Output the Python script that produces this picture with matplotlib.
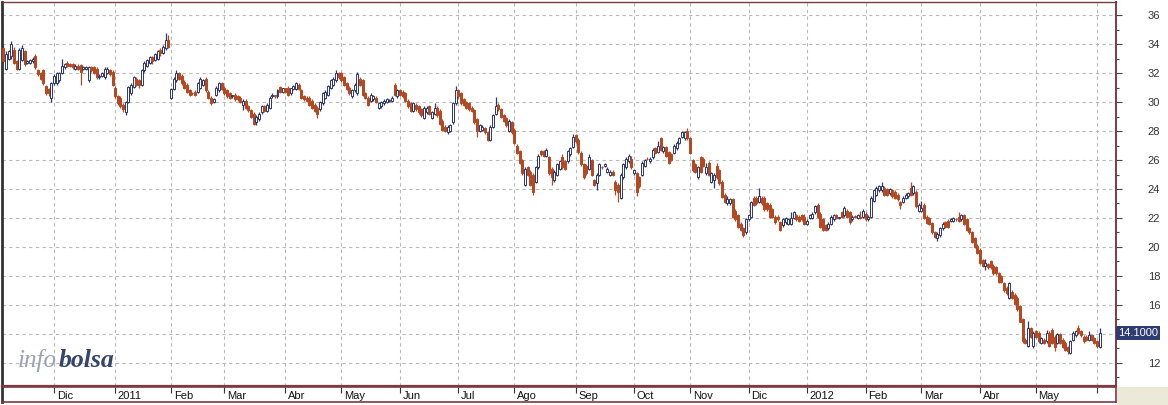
"""
Daily candlestick chart in the infobolsa style (Nov 2010 - Jun 2012).
"""

import numpy as np
import pandas as pd
import matplotlib
matplotlib.use("Agg")
import matplotlib.pyplot as plt
from matplotlib.patches import Rectangle
from matplotlib.transforms import blended_transform_factory


UP_COLOR = "#2b3770"
DOWN_COLOR = "#b5481f"
FRAME_COLOR = "#7d3a44"
GRID_COLOR = "#b8b8b8"
TAG_COLOR = "#2f3c72"

START_DATE = "2010-11-04"
MONTH_NAMES = ["Ene", "Feb", "Mar", "Abr", "May", "Jun",
               "Jul", "Ago", "Sep", "Oct", "Nov", "Dic"]
LAST_PRICE = 14.10

# one row per calendar month
opens = [
    33.7, 32.3, 33.0, 33.2, 33.6, 32.8, 32.3, 32.9, 33.5, 32.7, 32.7, 32.8, 33.2, 32.2, 32.0, 32.2, 31.1, 30.9, 30.3,
    31.3, 31.3, 31.5, 32.0, 32.4, 32.7, 32.6, 32.6, 32.3, 32.5, 32.55, 32.3, 32.3, 31.5, 32.4, 32.4, 32.3, 31.7, 31.8, 31.7, 32.0, 32.2, 32.1,
    31.0, 30.4, 30.3, 29.8, 29.3, 30.0, 30.6, 31.05, 31.6, 31.5, 31.2, 32.2, 32.5, 32.7, 33.1, 32.9, 33.0, 33.6, 33.4, 33.7, 34.3,
    30.3, 30.9, 31.5, 32.0, 31.8, 31.4, 31.2, 30.8, 30.65, 30.7, 30.7, 31.0, 31.2, 31.6, 30.7, 30.3, 30.0, 30.5, 30.8, 31.3,
    31.0, 30.8, 30.6, 30.4, 30.5, 30.4, 30.3, 29.8, 30.1, 29.7, 29.45, 29.2, 28.6, 28.8, 29.3, 29.7, 29.4, 29.6, 30.4, 30.45, 30.4, 31.05, 30.7,
    30.95, 31.0, 30.6, 30.9, 30.9, 31.2, 30.8, 30.4, 30.3, 30.3, 30.1, 29.8, 29.6, 29.5, 29.9, 30.3, 30.5, 30.95, 31.2, 31.5, 32.0,
    32.0, 31.7, 31.3, 31.0, 30.4, 30.8, 30.6, 31.6, 31.5, 30.6, 30.3, 30.1, 30.2, 30.3, 29.6, 29.7, 29.9, 30.0, 30.1, 30.1, 31.2, 30.4,
    30.8, 30.7, 30.6, 30.1, 29.9, 29.4, 29.8, 29.7, 29.5, 28.9, 29.3, 29.7, 28.9, 29.2, 29.6, 29.4, 28.7, 28.3, 27.9, 28.0, 28.6, 29.9,
    30.8, 30.6, 30.2, 30.0, 29.9, 29.6, 29.45, 28.8, 28.0, 28.1, 28.2, 27.9, 27.4, 28.3, 29.2, 29.8, 29.5, 29.1, 28.9, 28.0, 28.6,
    28.1, 27.0, 26.6, 26.0, 24.3, 25.5, 25.2, 25.0, 24.5, 25.5, 26.6, 26.6, 26.3, 26.2, 25.4, 24.6, 25.0, 25.4, 26.2, 25.9, 25.9, 26.4, 26.9,
    27.7, 27.4, 26.5, 25.7, 25.6, 25.4, 26.0, 24.6, 24.4, 25.0, 25.55, 25.6, 25.2, 25.0, 25.2, 24.5, 24.3, 23.4, 24.8, 25.5, 25.9, 26.1,
    25.1, 25.1, 24.8, 25.0, 25.6, 26.1, 25.9, 26.2, 26.8, 26.55, 27.5, 26.6, 26.9, 26.55, 26.4, 26.5, 26.8, 27.2, 27.6, 27.5, 28.0,
    27.5, 26.0, 25.7, 24.8, 26.2, 26.1, 25.1, 25.8, 24.5, 24.6, 25.6, 25.3, 24.5, 23.6, 23.0, 23.0, 23.3, 22.5, 22.2, 21.6, 21.3, 21.0,
    21.9, 22.1, 23.4, 23.4, 23.1, 23.4, 23.4, 23.0, 22.9, 22.6, 22.1, 22.1, 21.7, 21.5, 21.7, 21.6, 21.6, 22.0, 22.2, 22.1, 22.2, 22.1,
    21.6, 22.0, 22.0, 22.4, 22.9, 22.3, 21.9, 21.5, 21.3, 21.6, 21.9, 22.2, 22.0, 22.4, 22.2, 22.5, 22.4, 21.9, 22.15, 22.0, 22.1, 22.1,
    22.3, 21.9, 22.1, 23.2, 23.6, 23.9, 23.9, 24.1, 24.0, 23.7, 23.9, 23.8, 23.6, 23.1, 23.1, 23.4, 23.5, 24.1, 23.7, 23.8, 22.5,
    22.5, 22.9, 22.1, 22.0, 21.65, 21.0, 20.6, 20.8, 21.3, 21.7, 21.8, 21.8, 21.8, 21.95, 22.1, 21.9, 22.2, 21.9, 21.3, 21.0, 20.6, 20.1,
    19.8, 19.1, 18.7, 18.8, 19.0, 18.7, 18.6, 18.2, 18.0, 17.5, 17.2, 16.5, 16.9, 16.7, 16.5, 15.9, 15.0, 13.6, 13.2, 14.4, 13.2,
    14.2, 14.1, 13.4, 13.6, 13.5, 14.1, 14.3, 13.8, 13.4, 14.0, 13.6, 13.4, 13.1, 12.7, 13.6, 13.9, 14.4, 14.2, 13.8, 13.8, 13.6, 13.9, 13.7, 13.5, 13.1,
]

highs = [
    33.9, 33.5, 33.6, 34.2, 33.8, 32.9, 33.7, 33.9, 33.6, 32.9, 33.0, 33.1, 33.3, 32.3, 32.1, 32.3, 31.2, 31.0, 31.4,
    31.9, 32.1, 32.1, 33.0, 32.7, 32.8, 32.7, 32.7, 32.6, 32.6, 32.6, 32.5, 32.5, 32.5, 32.5, 32.5, 32.4, 31.9, 32.1, 32.4, 32.4, 32.3, 32.2,
    31.1, 30.5, 30.4, 29.9, 30.1, 31.1, 31.3, 31.8, 31.7, 31.6, 32.3, 32.8, 33.0, 33.2, 33.2, 33.4, 33.6, 33.7, 33.9, 34.75, 34.6,
    31.0, 31.7, 32.2, 32.1, 31.9, 31.5, 31.3, 30.9, 30.7, 30.8, 31.4, 31.7, 31.6, 31.7, 30.8, 30.4, 30.3, 31.1, 31.4, 31.4,
    31.1, 30.9, 30.7, 30.5, 30.6, 30.5, 30.4, 30.2, 30.2, 29.8, 29.5, 29.3, 29.1, 29.3, 29.8, 29.8, 29.9, 30.4, 30.6, 30.5, 30.9, 31.1, 31.0,
    31.0, 31.1, 31.0, 31.2, 31.4, 31.3, 30.9, 30.5, 30.4, 30.4, 30.2, 29.9, 29.7, 30.1, 30.7, 30.8, 31.2, 31.6, 31.7, 32.2, 32.1,
    32.1, 31.8, 31.4, 31.1, 30.9, 31.3, 32.1, 31.7, 31.6, 30.7, 30.4, 30.6, 30.5, 30.4, 30.0, 30.1, 30.2, 30.3, 30.2, 30.4, 31.3, 30.9,
    30.9, 30.8, 30.7, 30.2, 30.0, 30.0, 29.9, 29.8, 29.6, 29.7, 29.7, 29.8, 29.4, 29.9, 29.7, 29.5, 28.8, 28.4, 28.4, 28.5, 30.0, 31.1,
    30.9, 30.7, 30.3, 30.1, 30.0, 29.7, 29.5, 28.9, 28.5, 28.4, 28.3, 28.0, 28.4, 29.2, 30.35, 29.9, 29.6, 29.2, 29.0, 28.8, 28.7,
    28.2, 27.1, 26.7, 26.1, 25.5, 25.6, 25.3, 25.1, 25.6, 26.4, 26.7, 26.7, 26.8, 26.3, 25.5, 25.3, 25.8, 26.0, 26.4, 26.0, 26.7, 26.9, 27.8,
    27.8, 27.5, 26.6, 25.8, 25.7, 26.4, 26.1, 24.7, 25.1, 25.8, 25.6, 25.8, 25.5, 25.3, 25.3, 24.6, 24.4, 25.1, 25.8, 26.2, 26.4, 26.3,
    25.4, 25.2, 24.9, 25.9, 26.1, 26.2, 26.2, 26.8, 26.9, 27.3, 27.6, 27.0, 27.0, 26.6, 26.5, 27.1, 27.3, 27.6, 28.0, 28.0, 28.2,
    27.6, 26.1, 25.8, 25.6, 26.3, 26.2, 25.8, 25.9, 25.2, 25.1, 25.8, 25.4, 24.6, 23.7, 23.5, 23.4, 23.4, 22.6, 22.3, 21.7, 21.4, 22.0,
    22.3, 23.2, 23.5, 23.5, 24.1, 23.5, 23.5, 23.1, 23.0, 22.7, 22.2, 22.2, 21.8, 22.0, 22.1, 22.0, 22.4, 22.5, 22.3, 22.2, 22.3, 22.3,
    21.9, 22.3, 22.4, 22.9, 23.0, 22.4, 22.0, 21.6, 21.7, 22.2, 22.3, 22.3, 22.1, 22.5, 22.8, 22.6, 22.5, 22.2, 22.2, 22.3, 22.5, 22.6,
    22.4, 22.2, 23.5, 24.0, 24.2, 24.3, 24.5, 24.2, 24.1, 24.1, 24.0, 23.9, 23.7, 23.2, 23.5, 23.7, 23.8, 24.5, 24.3, 23.9, 23.0,
    23.2, 23.0, 22.2, 22.1, 21.7, 21.1, 21.0, 21.4, 21.7, 21.8, 21.9, 22.0, 22.1, 22.0, 22.4, 22.3, 22.3, 22.0, 21.4, 21.1, 20.7, 20.2,
    19.9, 19.2, 19.2, 18.9, 19.1, 18.8, 18.7, 18.3, 18.1, 17.6, 17.3, 17.6, 17.0, 16.8, 16.6, 16.0, 15.1, 13.7, 14.9, 14.5, 14.2,
    14.3, 14.2, 13.8, 13.7, 14.3, 14.2, 14.4, 13.9, 14.1, 14.1, 13.7, 13.5, 13.2, 13.6, 14.2, 14.3, 14.6, 14.3, 13.9, 13.9, 14.2, 14.0, 13.8, 13.6, 14.4,
]

lows = [
    32.7, 32.2, 32.9, 33.0, 32.6, 32.2, 32.2, 32.8, 32.5, 32.6, 32.6, 32.7, 32.3, 31.8, 31.5, 31.2, 30.5, 30.4, 30.0,
    31.2, 31.2, 31.4, 31.9, 32.3, 32.4, 32.4, 32.3, 32.2, 32.2, 31.2, 32.2, 32.2, 31.4, 32.1, 31.9, 31.6, 31.6, 31.7, 31.6, 31.9, 31.8, 31.1,
    30.3, 29.8, 29.6, 29.3, 29.1, 29.9, 30.5, 31.0, 31.1, 31.0, 31.1, 32.1, 32.4, 32.6, 32.6, 32.8, 32.9, 33.2, 33.3, 33.6, 33.7,
    30.2, 30.8, 31.4, 31.5, 31.2, 30.9, 30.6, 30.4, 30.5, 30.4, 30.6, 30.9, 31.1, 30.7, 30.2, 29.8, 29.9, 30.4, 30.7, 30.8,
    30.5, 30.3, 30.2, 30.3, 30.1, 30.1, 29.9, 29.45, 29.5, 29.3, 28.9, 28.4, 28.4, 28.7, 29.2, 29.3, 29.3, 29.5, 30.3, 30.3, 30.3, 30.6, 30.6,
    30.6, 30.4, 30.5, 30.8, 30.8, 30.8, 30.2, 30.1, 30.0, 29.7, 29.5, 29.3, 28.9, 29.4, 29.8, 30.2, 30.4, 30.9, 31.1, 31.4, 31.6,
    31.4, 31.1, 30.8, 30.5, 30.3, 30.7, 30.5, 31.1, 30.4, 30.2, 29.7, 30.0, 30.1, 29.9, 29.5, 29.6, 29.8, 29.9, 30.0, 30.0, 30.4, 30.3,
    30.4, 30.3, 30.0, 29.6, 29.3, 29.3, 29.4, 29.2, 29.0, 28.8, 29.2, 29.1, 28.8, 29.1, 29.0, 28.4, 28.0, 27.9, 27.8, 27.9, 28.5, 29.8,
    30.3, 29.8, 29.7, 29.5, 29.4, 29.3, 28.5, 27.6, 27.9, 28.0, 27.8, 27.3, 27.3, 28.2, 29.1, 29.4, 28.9, 28.6, 28.3, 27.9, 27.8,
    27.1, 26.4, 25.7, 25.0, 24.2, 24.9, 24.2, 23.6, 24.4, 25.4, 26.3, 26.2, 26.2, 25.0, 24.3, 24.5, 24.9, 25.3, 25.4, 25.3, 25.8, 26.3, 26.8,
    27.2, 26.4, 25.6, 24.7, 25.0, 25.3, 24.9, 24.2, 23.9, 24.9, 25.4, 25.5, 25.1, 24.9, 24.9, 23.6, 23.1, 23.3, 24.7, 25.4, 25.8, 25.4,
    25.0, 23.5, 24.1, 24.9, 25.5, 26.0, 25.8, 26.1, 26.4, 26.5, 26.6, 26.5, 26.2, 25.7, 25.9, 26.4, 26.7, 27.1, 27.5, 27.4, 27.4,
    26.4, 25.2, 25.1, 24.7, 25.1, 25.5, 25.0, 24.9, 24.4, 24.1, 24.7, 24.3, 23.4, 23.0, 22.9, 22.9, 22.0, 21.8, 21.3, 21.1, 20.7, 20.9,
    21.8, 22.0, 22.8, 22.9, 23.0, 22.9, 22.5, 22.5, 22.0, 22.0, 21.6, 21.8, 21.1, 21.4, 21.6, 21.5, 21.5, 21.9, 21.8, 21.7, 21.8, 21.5,
    21.5, 21.9, 21.9, 22.3, 22.0, 21.3, 21.1, 21.1, 21.2, 21.5, 21.8, 21.9, 21.9, 22.0, 22.1, 22.0, 21.6, 21.8, 22.0, 21.9, 21.9, 22.0,
    21.8, 21.8, 22.0, 23.1, 23.5, 23.8, 23.8, 23.5, 23.5, 23.6, 23.4, 23.3, 23.2, 22.6, 23.0, 23.3, 23.4, 23.5, 23.6, 22.7, 22.4,
    22.4, 21.9, 21.6, 21.5, 20.9, 20.6, 20.4, 20.7, 21.2, 21.3, 21.3, 21.7, 21.7, 21.8, 21.7, 21.8, 21.5, 21.1, 20.9, 20.3, 19.9, 19.5,
    18.8, 18.6, 18.4, 18.5, 18.5, 18.1, 18.1, 17.5, 17.5, 16.9, 16.7, 16.4, 16.4, 16.0, 15.6, 14.8, 13.4, 13.3, 13.1, 13.7, 13.0,
    13.7, 13.4, 13.3, 13.3, 13.4, 13.1, 13.3, 12.8, 13.3, 13.3, 13.0, 12.8, 12.6, 12.6, 13.5, 13.8, 14.0, 13.8, 13.4, 13.5, 13.5, 13.5, 13.3, 13.0, 13.0,
]

closes = [
    32.8, 33.3, 33.5, 34.0, 32.7, 32.3, 33.6, 33.7, 32.6, 32.8, 32.9, 33.0, 32.4, 31.9, 31.6, 31.3, 30.6, 30.6, 31.3,
    31.8, 32.0, 32.0, 32.5, 32.6, 32.5, 32.5, 32.4, 32.5, 32.3, 32.1, 32.4, 32.4, 32.4, 32.2, 32.0, 31.7, 31.8, 32.0, 32.3, 32.3, 31.9, 31.2,
    30.4, 29.9, 29.7, 29.5, 30.0, 31.05, 31.2, 31.7, 31.2, 31.2, 32.2, 32.7, 32.9, 33.1, 32.8, 33.3, 33.5, 33.4, 33.8, 34.3, 33.8,
    30.9, 31.6, 32.0, 31.6, 31.3, 31.0, 30.7, 30.5, 30.6, 30.5, 31.3, 31.6, 31.5, 30.8, 30.3, 29.9, 30.2, 31.0, 31.3, 30.9,
    30.6, 30.4, 30.3, 30.45, 30.2, 30.2, 30.0, 30.1, 29.6, 29.45, 29.0, 28.5, 29.0, 29.2, 29.7, 29.4, 29.8, 30.3, 30.5, 30.4, 30.8, 30.7, 30.95,
    30.7, 30.5, 30.95, 31.1, 31.3, 30.9, 30.3, 30.2, 30.1, 29.8, 29.6, 29.4, 29.2, 30.0, 30.6, 30.7, 31.1, 31.5, 31.6, 32.0, 31.7,
    31.5, 31.2, 30.9, 30.6, 30.8, 31.2, 31.9, 31.2, 30.5, 30.3, 29.8, 30.5, 30.4, 30.0, 29.9, 30.0, 30.1, 30.2, 30.15, 30.3, 30.5, 30.8,
    30.5, 30.4, 30.1, 29.7, 29.4, 29.9, 29.5, 29.3, 29.1, 29.6, 29.6, 29.2, 29.3, 29.6, 29.1, 28.5, 28.1, 28.0, 28.3, 28.4, 29.9, 30.8,
    30.4, 29.9, 29.8, 29.6, 29.5, 29.4, 28.6, 28.0, 28.4, 28.3, 27.9, 27.4, 28.3, 29.1, 29.7, 29.5, 29.0, 28.7, 28.4, 28.7, 27.9,
    27.2, 26.5, 25.8, 25.1, 25.4, 25.0, 24.3, 23.8, 25.5, 26.3, 26.4, 26.3, 26.7, 25.1, 24.8, 25.2, 25.7, 25.9, 25.5, 25.4, 26.6, 26.8, 27.6,
    27.3, 26.55, 25.7, 24.8, 25.1, 26.2, 25.0, 24.3, 25.0, 25.7, 25.5, 25.75, 25.4, 25.2, 25.0, 23.9, 23.8, 25.0, 25.7, 26.1, 26.3, 25.5,
    25.3, 23.8, 24.2, 25.8, 26.0, 26.05, 26.1, 26.7, 26.5, 27.0, 26.7, 26.9, 26.3, 25.8, 26.0, 27.0, 27.2, 27.5, 27.9, 27.9, 27.5,
    26.5, 25.3, 25.2, 25.5, 25.2, 25.6, 25.5, 25.0, 25.1, 25.0, 24.8, 24.4, 23.45, 23.1, 23.3, 23.3, 22.1, 21.9, 21.4, 21.2, 20.8, 21.9,
    22.2, 23.1, 22.9, 23.0, 23.5, 23.0, 22.6, 22.6, 22.1, 22.1, 21.7, 21.9, 21.2, 21.9, 22.0, 21.9, 22.0, 22.4, 21.9, 21.8, 21.9, 21.6,
    21.8, 22.2, 22.3, 22.8, 22.1, 21.4, 21.2, 21.2, 21.6, 22.1, 22.2, 22.0, 22.05, 22.1, 22.7, 22.1, 21.7, 22.1, 22.1, 22.2, 22.0, 22.5,
    21.9, 22.1, 23.4, 23.9, 24.1, 24.2, 24.2, 23.6, 23.6, 24.0, 23.5, 23.4, 23.3, 22.9, 23.4, 23.6, 23.7, 23.6, 24.2, 22.8, 22.9,
    22.7, 22.0, 21.65, 21.6, 21.0, 20.7, 20.9, 21.3, 21.6, 21.4, 21.4, 21.95, 22.0, 21.9, 21.8, 22.2, 21.6, 21.2, 21.0, 20.35, 20.0, 19.6,
    18.9, 18.7, 18.9, 18.6, 18.6, 18.2, 18.2, 17.6, 17.6, 17.0, 16.8, 17.5, 16.5, 16.1, 15.7, 14.85, 13.5, 13.4, 14.4, 13.8, 14.1,
    13.8, 13.5, 13.7, 13.4, 14.1, 13.2, 13.4, 13.1, 14.0, 13.4, 13.1, 12.9, 12.8, 13.5, 14.1, 14.2, 14.1, 13.9, 13.5, 13.6, 13.9, 13.6, 13.4, 13.2, 14.1,
]


def month_starts(dates):
    """
    Index of the first session of every month (the first partial month is skipped).
    """
    idx = [i for i in range(1, len(dates)) if dates[i].month != dates[i - 1].month]
    labels = [str(dates[i].year) if dates[i].month == 1 else MONTH_NAMES[dates[i].month - 1]
              for i in idx]
    return idx, labels


def plot_candles(ax, o, h, l, c):
    x = np.arange(len(c))
    up = c >= o
    colors = np.where(up, UP_COLOR, DOWN_COLOR)
    faces = np.where(up, "white", DOWN_COLOR)

    ax.vlines(x, l, h, colors=colors, linewidth=0.9, zorder=2)
    body_low = np.minimum(o, c)
    body_h = np.maximum(np.abs(c - o), 0.05)
    ax.bar(x, body_h, bottom=body_low, width=0.75, color=faces,
           edgecolor=colors, linewidth=0.7, zorder=3)


def main():
    o = np.array(opens)
    h = np.array(highs)
    l = np.array(lows)
    c = np.array(closes)
    dates = pd.bdate_range(START_DATE, periods=len(c))
    tick_idx, tick_labels = month_starts(dates)

    plt.rcParams["font.family"] = ["Liberation Sans", "DejaVu Sans"]

    W, H = 1168, 405
    fig = plt.figure(figsize=(W / 100, H / 100), dpi=100)
    fig.patch.set_facecolor("white")

    x_min, x_max = -0.53, 418.1
    left, right = 2 / W, 1116 / W
    ax = fig.add_axes([left, (H - 386) / H, right - left, 384 / H])
    ax.set_xlim(x_min, x_max)
    ax.set_ylim(10.41, 36.9)

    plot_candles(ax, o, h, l, c)

    # grid
    ax.set_xticks(tick_idx)
    ax.set_xticklabels([])
    ax.tick_params(axis="x", length=0)
    price_ticks = np.arange(12, 37, 2)
    ax.set_yticks(price_ticks)
    # the last-price tag sits on top of the nearest label
    ax.set_yticklabels(["" if abs(v - LAST_PRICE) < 1 else str(v) for v in price_ticks])
    ax.set_yticks(np.arange(11, 37, 1), minor=True)
    ax.grid(True, which="major", color=GRID_COLOR, linestyle=(0, (3, 3)), linewidth=0.8)
    ax.set_axisbelow(True)

    # price scale on the right
    ax.yaxis.tick_right()
    ax.tick_params(axis="y", which="major", direction="out", length=4.3, width=0.8,
                   color="#444444", pad=27.5, labelsize=8, labelcolor="#333333")
    ax.tick_params(axis="y", which="minor", direction="out", length=2.2, width=0.8,
                   color="#444444")
    for lbl in ax.get_yticklabels():
        lbl.set_horizontalalignment("right")

    for side in ("top", "right", "bottom"):
        ax.spines[side].set_color(FRAME_COLOR)
    ax.spines["right"].set_linewidth(1.4)
    ax.spines["bottom"].set_linewidth(1.6)
    ax.spines["top"].set_linewidth(1.0)
    ax.spines["left"].set_color("#333333")
    ax.spines["left"].set_linewidth(2.0)

    # last price tag
    trans = blended_transform_factory(ax.transAxes, ax.transData)
    ax.text(1.0015, LAST_PRICE, f"{LAST_PRICE:.4f}", transform=trans, ha="left",
            va="center", fontsize=8, color="white", zorder=10, clip_on=False,
            bbox=dict(boxstyle="square,pad=0.18", fc=TAG_COLOR, ec="none"))

    # logo
    logo_y = 1 - 367 / H
    t_info = fig.text(18 / W, logo_y, "info", fontsize=18, style="italic",
                      family=["Liberation Serif", "DejaVu Serif"], color="#9aa1b5",
                      va="baseline")
    t_bolsa = fig.text(0, logo_y, "bolsa", fontsize=18.5, style="italic", weight="bold",
                       family=["Liberation Serif", "DejaVu Serif"], color="#34446b",
                       va="baseline", ha="left")
    fig.canvas.draw()
    bb = t_info.get_window_extent()
    t_bolsa.set_position((bb.x1 / W + 0.001, logo_y))

    # date strip
    ax_d = fig.add_axes([left, (H - 402) / H, right - left, 15 / H])
    ax_d.set_xlim(x_min, x_max)
    ax_d.set_ylim(0, 1)
    ax_d.set_yticks([])
    ax_d.xaxis.tick_top()
    ax_d.set_xticks(tick_idx)
    ax_d.set_xticklabels([])
    ax_d.tick_params(axis="x", direction="in", length=4, width=0.8, color="#333333")
    dtrans = blended_transform_factory(ax_d.transData, ax_d.transAxes)
    for i, lab in zip(tick_idx, tick_labels):
        if i + 8 < x_max:
            ax_d.text(i + 1.0, 0.42, lab, transform=dtrans, ha="left", va="center",
                      fontsize=8, color="#111111")
    for side in ("top", "right", "bottom"):
        ax_d.spines[side].set_color(FRAME_COLOR)
        ax_d.spines[side].set_linewidth(1.2)
    ax_d.spines["left"].set_color("#333333")
    ax_d.spines["left"].set_linewidth(2.0)

    # grey corner under the price scale
    fig.patches.append(Rectangle((1117 / W, 0), 1 - 1117 / W, (H - 387) / H,
                                 transform=fig.transFigure, fc="#ece9d8", ec="none"))

    fig.savefig("out.png", dpi=100)
    plt.close(fig)


if __name__ == "__main__":
    main()
